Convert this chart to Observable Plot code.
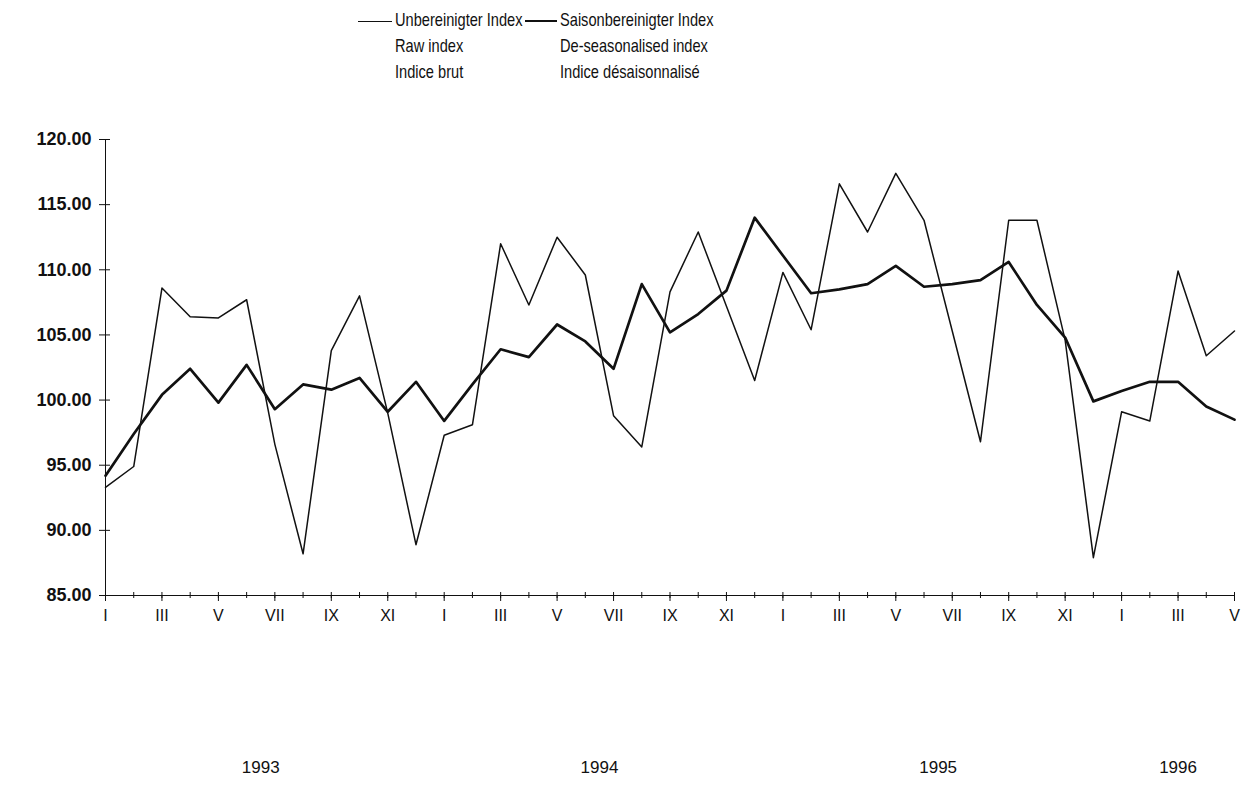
<!DOCTYPE html>
<html><head><meta charset="utf-8">
<script src="https://cdn.jsdelivr.net/npm/d3@7"></script>
<script src="https://cdn.jsdelivr.net/npm/@observablehq/plot@0.6"></script>
<style>
body{margin:0;background:#fff;}
#legend{position:relative;width:1241px;height:110px;font-family:"Liberation Sans",Arial,sans-serif;font-size:18.5px;color:#111;}
.col{position:absolute;top:7px;line-height:26px;white-space:nowrap;transform:scaleX(0.79);transform-origin:left top;}
.sw{position:absolute;background:#111;}
</style></head><body>
<div id="legend"></div>
<div id="chart"></div>
<script>
const months = ["I","II","III","IV","V","VI","VII","VIII","IX","X","XI","XII"];
const years = [1993, 1994, 1995, 1996];
const rawIndex = [
  93.3, 94.9, 108.6, 106.4, 106.3, 107.7, 96.6, 88.2, 103.8, 108.0, 99.0, 88.9,
  97.3, 98.1, 112.0, 107.3, 112.5, 109.6, 98.8, 96.4, 108.3, 112.9, 107.2, 101.5,
  109.8, 105.4, 116.6, 112.9, 117.4, 113.8, 105.3, 96.8, 113.8, 113.8, 104.6, 87.9,
  99.1, 98.4, 109.9, 103.4, 105.3
];
const seasonalIndex = [
  94.2, 97.4, 100.4, 102.4, 99.8, 102.7, 99.3, 101.2, 100.8, 101.7, 99.1, 101.4,
  98.4, 101.2, 103.9, 103.3, 105.8, 104.5, 102.4, 108.9, 105.2, 106.6, 108.4, 114.0,
  111.1, 108.2, 108.5, 108.9, 110.3, 108.7, 108.9, 109.2, 110.6, 107.3, 104.8, 99.9,
  100.7, 101.4, 101.4, 99.5, 98.5
];
const yTicks = [85, 90, 95, 100, 105, 110, 115, 120];
const legendRaw = ["Unbereinigter Index", "Raw index", "Indice brut"];
const legendSA = ["Saisonbereinigter Index", "De-seasonalised index", "Indice désaisonnalisé"];

// legend
const lg = document.getElementById("legend");
function addCol(lines, left, swLeft, swWidth, swThick) {
  const c = document.createElement("div");
  c.className = "col"; c.style.left = left + "px";
  c.innerHTML = lines.join("<br>");
  lg.appendChild(c);
  const s = document.createElement("div");
  s.className = "sw";
  s.style.left = swLeft + "px"; s.style.width = swWidth + "px";
  s.style.top = (21 - swThick / 2) + "px"; s.style.height = swThick + "px";
  lg.appendChild(s);
}
addCol(legendRaw, 395, 358, 34, 1);
addCol(legendSA, 560, 525, 32, 2);

const n = rawIndex.length;
const idx = d3.range(n);
const data = idx.map(i => ({i, raw: rawIndex[i], sa: seasonalIndex[i]}));
const yearCenters = years.map((y, k) => {
  const ii = idx.filter(i => Math.floor(i / 12) === k);
  return {year: String(y), i: d3.mean(ii)};
});

const chart = Plot.plot({
  width: 1241, height: 688,
  marginTop: 29, marginBottom: 203, marginLeft: 105, marginRight: 7,
  style: {fontFamily: "Liberation Sans, Arial, sans-serif", fontSize: "15px", color: "#111", background: "#fff"},
  x: {domain: [0, n - 1], label: null},
  y: {domain: [85, 120], label: null},
  marks: [
    Plot.axisY({ticks: yTicks, tickSize: 6, tickPadding: 8, tickFormat: d => d.toFixed(2), label: null, fontSize: 18, fontWeight: "bold", letterSpacing: 0.5}),
    Plot.axisY({ticks: yTicks, tickSize: -5, tickFormat: () => "", label: null}),
    Plot.axisX({ticks: idx, tickSize: 3, tickFormat: () => "", label: null}),
    Plot.axisX({ticks: idx, tickSize: -3, tickFormat: () => "", label: null}),
    Plot.axisX({ticks: idx.filter(i => i % 2 === 0), tickSize: 6, tickPadding: 8, tickFormat: i => months[i % 12], label: null, fontSize: 16}),
    Plot.ruleX([0], {stroke: "#111"}),
    Plot.ruleY([85], {stroke: "#111"}),
    Plot.line(data, {x: "i", y: "raw", stroke: "#111", strokeWidth: 1.5}),
    Plot.line(data, {x: "i", y: "sa", stroke: "#111", strokeWidth: 2.7}),
    Plot.text(yearCenters, {x: "i", text: "year", frameAnchor: "bottom", dy: 177, fontSize: 17, letterSpacing: 1})
  ]
});
document.getElementById("chart").appendChild(chart);
</script>
</body></html>
